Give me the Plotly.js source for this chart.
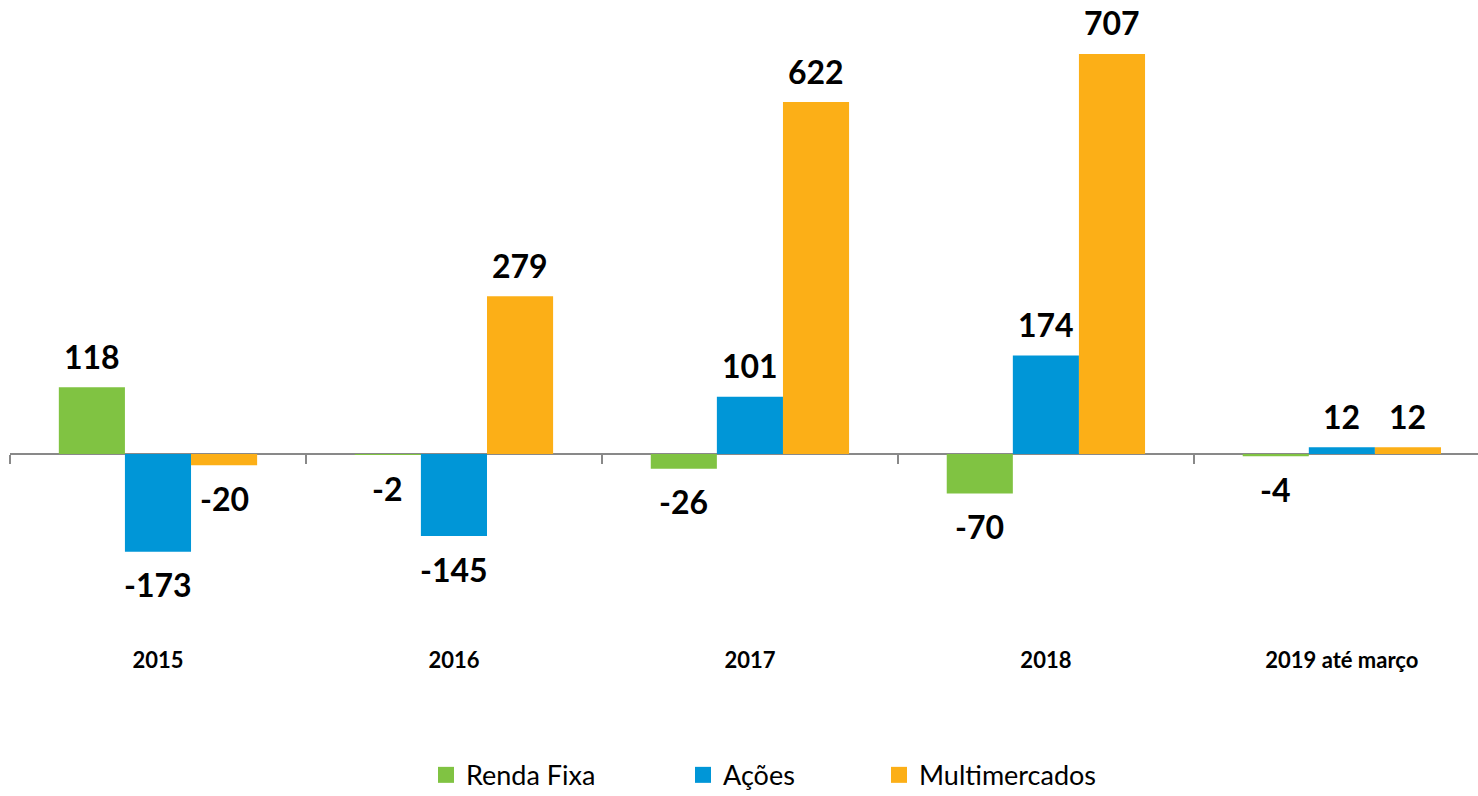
<!DOCTYPE html>
<html>
<head>
<meta charset="utf-8">
<script src="https://cdn.plot.ly/plotly-3.0.1.min.js"></script>
<style>html,body{margin:0;padding:0;background:#fff;}#chart{width:1478px;height:796px;}</style>
</head>
<body>
<div id="chart"></div>
<script>
const categories = ['2015', '2016', '2017', '2018', '2019 até março'];
const seriesNames = ['Renda Fixa', 'Ações', 'Multimercados'];
const rendaFixa = [118, -2, -26, -70, -4];
const acoes = [-173, -145, 101, 174, 12];
const multimercados = [-20, 279, 622, 707, 12];
const colors = ['#80C342', '#0096D7', '#FCAF17'];
const seriesValues = [rendaFixa, acoes, multimercados];

const bargap = 0.33;
const idx = categories.map((c, i) => i);

const traces = [];
seriesValues.forEach((vals, k) => {
  traces.push({
    type: 'bar', x: idx, y: vals, name: seriesNames[k],
    marker: {color: colors[k], line: {width: 0}},
    showlegend: false, hoverinfo: 'y'
  });
});
// legend entries
seriesValues.forEach((vals, k) => {
  traces.push({
    type: 'scatter', mode: 'markers', x: [null], y: [null], name: seriesNames[k],
    marker: {symbol: 'square', size: 18, color: colors[k]},
    legend: k === 0 ? 'legend' : 'legend' + (k + 1), hoverinfo: 'skip'
  });
});
// dummy trace for tick axis at zero
traces.push({type: 'scatter', mode: 'markers', x: [null], y: [null], xaxis: 'x2', showlegend: false, hoverinfo: 'skip'});

const barW = (1 - bargap) / 3;
const annotations = [];
seriesValues.forEach((vals, k) => {
  vals.forEach((v, i) => {
    annotations.push({
      x: i + (k - 1) * barW, y: v, xref: 'x', yref: 'y',
      text: String(v), showarrow: false, yanchor: 'middle',
      yshift: v >= 0 ? 31 : -33,
      font: {family: 'Lato', size: 32, color: '#000', weight: 'bold'}
    });
  });
});

const font = {family: 'Lato', color: '#000'};
const range = [-0.5, 4.46];
const legendFont = {family: 'Lato', size: 27, color: '#000'};
const legY = 0.026;
const layout = {
  width: 1478, height: 796,
  margin: {l: 10, r: 0, t: 0, b: 151},
  paper_bgcolor: '#fff', plot_bgcolor: '#fff',
  barmode: 'group', bargap: bargap, bargroupgap: 0,
  font: font,
  xaxis: {
    type: 'linear', range: range, tickvals: idx, ticktext: categories,
    showgrid: false, zeroline: false, showline: false, ticks: '',
    tickfont: {family: 'Lato', size: 22, color: '#000', weight: 'bold'}
  },
  xaxis2: {
    type: 'linear', range: range, overlaying: 'x', anchor: 'free', position: 0.29612,
    tickvals: [-0.5, 0.5, 1.5, 2.5, 3.5], ticks: 'outside', ticklen: 9, tickwidth: 2,
    tickcolor: '#898989', showticklabels: false, showgrid: false, zeroline: false, showline: false
  },
  yaxis: {
    range: [-337.6, 802.4], showgrid: false, showticklabels: false, ticks: '',
    zeroline: true, zerolinecolor: '#898989', zerolinewidth: 2, showline: false
  },
  legend: {orientation: 'h', xref: 'container', yref: 'container', x: 426/1478, y: legY, xanchor: 'left', yanchor: 'middle', font: legendFont, itemsizing: 'trace'},
  legend2: {orientation: 'h', xref: 'container', yref: 'container', x: 683/1478, y: legY, xanchor: 'left', yanchor: 'middle', font: legendFont, itemsizing: 'trace'},
  legend3: {orientation: 'h', xref: 'container', yref: 'container', x: 879/1478, y: legY, xanchor: 'left', yanchor: 'middle', font: legendFont, itemsizing: 'trace'},
  annotations: annotations,
  showlegend: true
};

Plotly.newPlot('chart', traces, layout, {displayModeBar: false, staticPlot: true});
</script>
</body>
</html>
